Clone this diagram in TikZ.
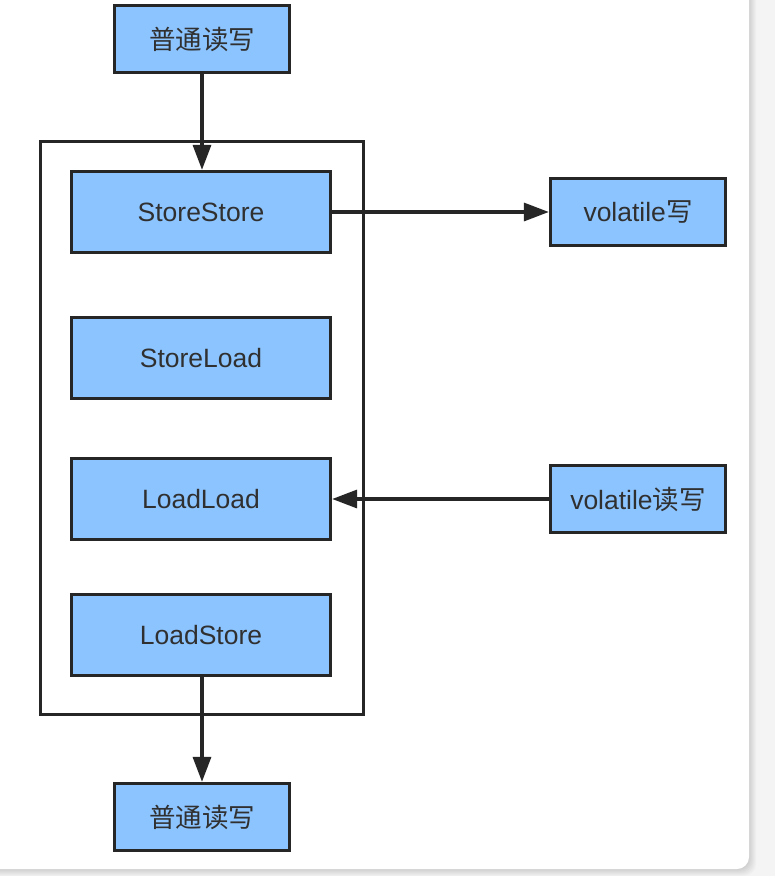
\documentclass[tikz,border=0pt]{standalone}
\usepackage{fontspec}
\setmainfont{Liberation Sans}
\newfontfamily\cjk{Noto Sans CJK SC}
\usetikzlibrary{arrows.meta}
\definecolor{boxblue}{RGB}{140,196,255}
\definecolor{boxline}{RGB}{38,38,38}
\definecolor{boxtext}{RGB}{48,48,48}
\definecolor{pagegray}{RGB}{244,244,244}
\begin{document}
\begin{tikzpicture}[x=1pt,y=-1pt,
    box/.style={draw=boxline,fill=boxblue,line width=3.3pt,inner sep=0,minimum width=259pt,minimum height=81pt,font=\fontsize{26.5}{30}\selectfont,text=boxtext},
    sidebox/.style={box,minimum width=175pt,minimum height=67pt},
    link/.style={draw=boxline,line width=3.3pt,-{Triangle[length=25pt,width=18pt]}}]
        \useasboundingbox (0,0) rectangle (775,876);
        % Card and shadow
        \fill[pagegray] (0,0) rectangle (775,876);
        \foreach \d in {1,...,7} { \fill[black,opacity=0.018,rounded corners=12pt] (-20,-20) rectangle ({749+\d},{869+\d}); }
        \fill[white,rounded corners=12pt] (-20,-20) rectangle (749,869);
        % Barrier frame
        \node[draw=boxline,line width=3.3pt,inner sep=0,minimum width=323pt,minimum height=573pt] (frame) at (202,428) {};
        % Boxes
        \node[sidebox] (TopRW)    at (202,39)  {\cjk 普通读写};
        \node[box]     (StSt)     at (201,212) {StoreStore};
        \node[box]     (StLd)     at (201,358) {StoreLoad};
        \node[box]     (LdLd)     at (201,499) {LoadLoad};
        \node[box]     (LdSt)     at (201,635) {LoadStore};
        \node[sidebox] (BottomRW) at (202,817) {\cjk 普通读写};
        \node[sidebox] (VolW)     at (638,212) {volatile{\cjk 写}};
        \node[sidebox] (VolRW)    at (638,499) {volatile{\cjk 读写}};
        % Arrows
        \draw[link] (TopRW) -- (TopRW |- StSt.north);
        \draw[link] (StSt) -- (VolW);
        \draw[link] (VolRW) -- (LdLd);
        \draw[link] (LdSt.south -| BottomRW) -- (BottomRW);
\end{tikzpicture}
\end{document}
